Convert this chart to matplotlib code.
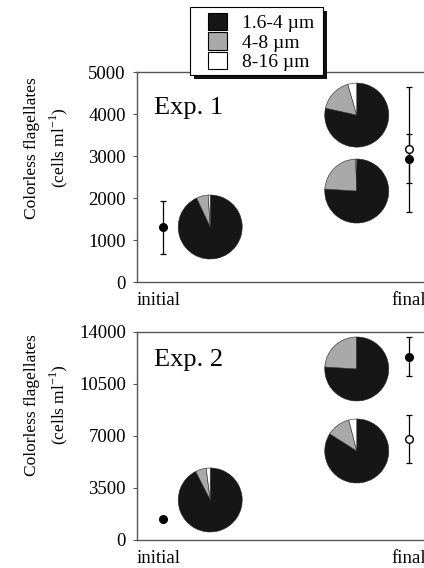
import numpy as np
from matplotlib import pyplot as plt
from matplotlib.patches import Patch, Rectangle

plt.rcParams['font.family'] = ['Liberation Serif', 'DejaVu Serif']
plt.rcParams['mathtext.fontset'] = 'custom'
plt.rcParams['mathtext.rm'] = 'Liberation Serif'

size_classes = ['1.6-4 µm', '4-8 µm', '8-16 µm']
class_colors = ['#161616', '#a9a9a9', '#ffffff']

# x positions: initial sample and final samples
x_initial = 0.85
x_final = 8.9
x_pie_initial = 2.4
x_pie_final = 7.2

# Exp. 1 cell counts (mean, lower, upper)
exp1_initial = [1310, 667, 1930]
exp1_final_filled = [2930, 1667, 4640]
exp1_final_open = [3170, 2357, 3520]
# Exp. 1 pie fractions (1.6-4, 4-8, 8-16 um) and pie centre heights
exp1_pie_initial = [93, 6, 1]
exp1_pie_final_upper = [78.5, 17, 4.5]
exp1_pie_final_lower = [76, 23.5, 0.5]
exp1_pie_y = [1310, 3976, 2167]

# Exp. 2
exp2_initial = [1410, 1410, 1410]
exp2_final_filled = [12320, 11040, 13660]
exp2_final_open = [6800, 5180, 8410]
exp2_pie_initial = [92.5, 5.5, 2]
exp2_pie_final_upper = [76, 24, 0]
exp2_pie_final_lower = [84, 12, 4]
exp2_pie_y = [2692, 11510, 5990]

W, H = 424, 568
fig = plt.figure(figsize=(W / 100, H / 100), dpi=100)
ax1 = fig.add_axes([0.323, 0.5035, 0.72, 0.3695])
ax2 = fig.add_axes([0.323, 0.0493, 0.72, 0.3662])

PIE_R_PX = 32


def add_pie(ax, xc, yc, fracs):
    # convert pixel radius to data units around the centre
    p = ax.transData.transform((xc, yc))
    inv = ax.transData.inverted()
    x0, y0 = inv.transform((p[0] - PIE_R_PX, p[1] - PIE_R_PX))
    x1, y1 = inv.transform((p[0] + PIE_R_PX, p[1] + PIE_R_PX))
    inset = ax.inset_axes([x0, y0, x1 - x0, y1 - y0], transform=ax.transData)
    inset.pie(fracs, colors=class_colors, startangle=90, counterclock=False,
              wedgeprops=dict(edgecolor='#222222', linewidth=0.4))
    inset.set_xlim(-1.0, 1.0)
    inset.set_ylim(-1.0, 1.0)
    inset.set_aspect('equal')
    inset.axis('off')


def draw_panel(ax, ymax, yticks, label, label_y, ylab_y, initial,
               final_filled, final_open, pies, pie_y):
    ax.set_xlim(0, 10)
    ax.set_ylim(0, ymax)
    ax.set_yticks(yticks)
    ax.set_yticklabels([str(t) for t in yticks], fontsize=13.5)
    ax.tick_params(axis='y', direction='out', length=3, color='#555555', pad=5)
    ax.set_xticks([0, 8.35])
    ax.set_xticklabels(['initial', 'final'], fontsize=13.5)
    for lab in ax.get_xticklabels():
        lab.set_ha('left')
    ax.tick_params(axis='x', length=0, pad=7)
    for s in ax.spines.values():
        s.set_color('#555555')
        s.set_linewidth(1.0)

    for (m, lo, hi), x, fc in [(initial, x_initial, 'black'),
                               (final_filled, x_final, 'black'),
                               (final_open, x_final, 'white')]:
        ax.errorbar([x], [m], yerr=[[m - lo], [hi - m]], fmt='o', color='black',
                    mfc=fc, mec='black', ms=5.5, elinewidth=0.9, capsize=2.5,
                    capthick=0.9, zorder=3)

    ax.text(0.056, label_y, label, transform=ax.transAxes, fontsize=19,
            ha='left', va='center')
    ax.set_ylabel('Colorless flagellates\n(cells ml$^{-1}$)', fontsize=12.5,
                  linespacing=1.5)
    ax.yaxis.set_label_coords(-0.218, ylab_y)

    fig.canvas.draw()
    add_pie(ax, x_pie_initial, pie_y[0], pies[0])
    add_pie(ax, x_pie_final, pie_y[1], pies[1])
    add_pie(ax, x_pie_final, pie_y[2], pies[2])


draw_panel(ax1, 5000, [0, 1000, 2000, 3000, 4000, 5000], 'Exp. 1', 0.83, 0.64,
           exp1_initial, exp1_final_filled, exp1_final_open,
           [exp1_pie_initial, exp1_pie_final_upper, exp1_pie_final_lower],
           exp1_pie_y)
draw_panel(ax2, 14000, [0, 3500, 7000, 10500, 14000], 'Exp. 2', 0.865, 0.65,
           exp2_initial, exp2_final_filled, exp2_final_open,
           [exp2_pie_initial, exp2_pie_final_upper, exp2_pie_final_lower],
           exp2_pie_y)

# legend box with a hard drop shadow
box_x0, box_y0, box_x1, box_y1 = 190, 7, 323, 75
shadow = Rectangle(((box_x0 + 4) / W, 1 - (box_y1 + 4) / H),
                   (box_x1 - box_x0) / W, (box_y1 - box_y0) / H,
                   transform=fig.transFigure, facecolor='#111111',
                   edgecolor='none', zorder=5)
frame = Rectangle((box_x0 / W, 1 - box_y1 / H),
                  (box_x1 - box_x0) / W, (box_y1 - box_y0) / H,
                  transform=fig.transFigure, facecolor='white',
                  edgecolor='black', linewidth=0.8, zorder=6)
fig.add_artist(shadow)
fig.add_artist(frame)

handles = [Patch(facecolor=c, edgecolor='black', linewidth=0.8) for c in class_colors]
leg = fig.legend(handles, size_classes, loc='upper left',
                 bbox_to_anchor=(208 / W, 1 - 13 / H), fontsize=14,
                 frameon=False, labelspacing=0.0, handlelength=0.98,
                 handleheight=1.0, handletextpad=0.77, borderpad=0,
                 borderaxespad=0)
leg.set_zorder(10)

fig.savefig('out.png', dpi=100)
